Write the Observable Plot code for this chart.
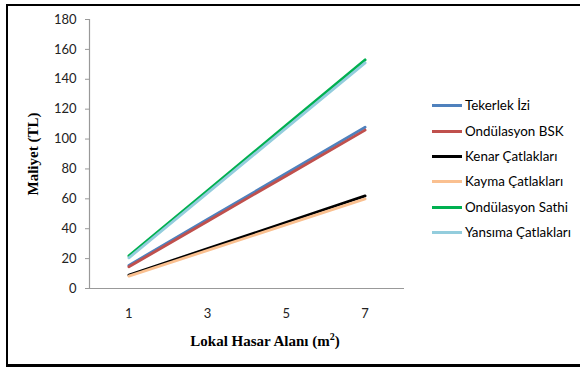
<!DOCTYPE html>
<html>
<head>
<meta charset="utf-8">
<script src="https://cdn.jsdelivr.net/npm/d3@7"></script>
<script src="https://cdn.jsdelivr.net/npm/@observablehq/plot@0.6"></script>
<style>
  html, body { margin: 0; padding: 0; background: #fff; }
  #wrap { position: relative; width: 580px; height: 367px; overflow: hidden; font-family: Lato, "Open Sans", sans-serif; }
  #border { position: absolute; left: 6px; top: 4px; width: 600px; height: 358px; border-left: 2px solid #000; border-top: 2px solid #000; border-bottom: 3px solid #000; }
  #chart { position: absolute; left: 0; top: 0; }
  .title { position: absolute; font-family: "Liberation Serif", "Times New Roman", serif; font-weight: bold; font-size: 15px; color: #000; white-space: nowrap; }
  #ytitle { left: 33px; top: 154px; transform: translate(-50%, -50%) rotate(-90deg); }
  #xtitle { left: 265px; top: 340px; transform: translate(-50%, -50%); }
  #legend { position: absolute; left: 432px; top: 0; }
  .li { position: absolute; left: 0; white-space: nowrap; font-size: 13.4px; color: #000; display: flex; align-items: center; transform: translateY(-50%); }
  .li span.sw { display: inline-block; width: 30px; height: 3px; margin-right: 3px; }
</style>
</head>
<body>
<div id="wrap">
  <div id="border"></div>
  <div id="chart"></div>
  <div class="title" id="ytitle">Maliyet (TL)</div>
  <div class="title" id="xtitle">Lokal Hasar Alanı (m<sup style="font-size:10px">2</sup>)</div>
  <div id="legend"></div>
</div>
<script>
const areas = [1, 3, 5, 7];
const seriesNames = ["Tekerlek İzi", "Ondülasyon BSK", "Kenar Çatlakları", "Kayma Çatlakları", "Ondülasyon Sathi", "Yansıma Çatlakları"];
const seriesColors = ["#4F81BD", "#C0504D", "#000000", "#FAC090", "#00B050", "#93CDDD"];
const tekerlekIzi = [15.5, 46.3, 77.1, 107.9];
const ondulasyonBSK = [14.5, 45.0, 75.5, 106.0];
const kenarCatlaklari = [9.0, 26.7, 44.3, 62.0];
const kaymaCatlaklari = [8.3, 25.5, 42.7, 60.0];
const ondulasyonSathi = [21.8, 65.5, 109.3, 153.0];
const yansimaCatlaklari = [20.5, 64.0, 107.5, 151.0];
const yTicks = [0, 20, 40, 60, 80, 100, 120, 140, 160, 180];

const seriesValues = [tekerlekIzi, ondulasyonBSK, kenarCatlaklari, kaymaCatlaklari, ondulasyonSathi, yansimaCatlaklari];
const rows = [];
seriesNames.forEach((name, i) => {
  areas.forEach((a, j) => rows.push({series: name, area: a, value: seriesValues[i][j]}));
});

const plot = Plot.plot({
  width: 580,
  height: 367,
  marginLeft: 89,
  marginRight: 176,
  marginTop: 19,
  marginBottom: 79,
  style: {fontFamily: "Lato, 'Open Sans', sans-serif", fontSize: "13px", color: "#222", background: "transparent"},
  x: {type: "linear", domain: [0, 8], axis: null},
  y: {domain: [0, 180], axis: null},
  color: {domain: seriesNames, range: seriesColors},
  marks: [
    Plot.ruleY([0], {stroke: "#999", strokeWidth: 1.2}),
    Plot.ruleX([0], {stroke: "#999", strokeWidth: 1.2}),
    Plot.axisY({ticks: yTicks, tickSize: 4, tickPadding: 9, stroke: "#999", label: null, fill: "#222"}),
    Plot.axisX({ticks: areas, tickSize: 0, tickPadding: 20, label: null, tickFormat: d => String(d), fill: "#222"}),
    Plot.line(rows, {x: "area", y: "value", z: "series", stroke: "series", strokeWidth: 2.8})
  ]
});
document.getElementById("chart").appendChild(plot);

const legend = document.getElementById("legend");
const ys = [105, 131, 156, 181, 207, 232];
seriesNames.forEach((name, i) => {
  const d = document.createElement("div");
  d.className = "li";
  d.style.top = ys[i] + "px";
  d.innerHTML = `<span class="sw" style="background:${seriesColors[i]}"></span>${name}`;
  legend.appendChild(d);
});
</script>
</body>
</html>
